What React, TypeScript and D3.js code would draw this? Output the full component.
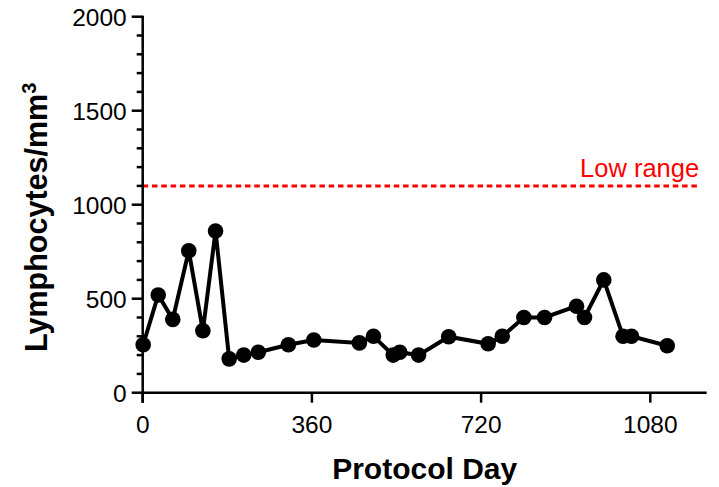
import React from "react";
import * as d3 from "d3";

const days = [1, 33, 64, 98, 128, 155, 184, 215, 246, 310, 364, 461, 491, 533, 547, 587, 651, 735, 765, 811, 855, 923, 940, 981, 1022, 1040, 1116];
const lymphocytes = [255, 520, 390, 755, 330, 860, 180, 200, 215, 255, 280, 265, 300, 200, 215, 200, 298, 260, 300, 400, 400, 460, 400, 600, 300, 300, 250];
const xTicks = [0, 360, 720, 1080];
const yTicks = [0, 500, 1000, 1500, 2000];
const yMinorTicks = d3.range(0, 2001, 100);
const lowRange = 1100;
const lowRangeSpan = [0, 1185];
const lowRangeLabel = "Low range";

const W = 719;
const H = 487;
const FONT = "'Liberation Sans', Arial, Helvetica, sans-serif";

export default function App() {
  const x = d3.scaleLinear().domain([0, 1200]).range([142.7, 706.7]);
  const y = d3.scaleLinear().domain([0, 2000]).range([392.7, 16.7]);
  const pts = days.map((d, i) => [d, lymphocytes[i]] as [number, number]);
  const line = d3
    .line<[number, number]>()
    .x((p) => x(p[0]))
    .y((p) => y(p[1]));

  const x0 = x(0);
  const y0 = y(0);

  return (
    <svg
      width={W}
      height={H}
      style={{ position: "absolute", left: 0, top: 0, background: "#fff" }}
      fontFamily={FONT}
    >
      {/* low range line */}
      <line
        x1={x(lowRangeSpan[0])}
        x2={x(lowRangeSpan[1])}
        y1={y(lowRange)}
        y2={y(lowRange)}
        stroke="#ff0000"
        strokeWidth={3}
        strokeDasharray="5.5 3.8"
      />
      <text
        x={x(lowRangeSpan[1]) - 0.5}
        y={y(lowRange) - 9}
        textAnchor="end"
        fontSize={25.5}
        fill="#ff0000"
      >
        {lowRangeLabel}
      </text>

      {/* data */}
      <path d={line(pts) || ""} fill="none" stroke="#000" strokeWidth={4} strokeLinejoin="miter" />
      {pts.map((p, i) => (
        <circle key={i} cx={x(p[0])} cy={y(p[1])} r={7.8} fill="#000" />
      ))}

      {/* y axis */}
      <line x1={x0} x2={x0} y1={y(2000) - 1} y2={y0 + 10} stroke="#000" strokeWidth={2.5} />
      {yMinorTicks.map((t) => (
        <line
          key={"m" + t}
          x1={x0 - (t % 500 === 0 ? 11 : 6)}
          x2={x0}
          y1={y(t)}
          y2={y(t)}
          stroke="#000"
          strokeWidth={2.5}
        />
      ))}
      {yTicks.map((t) => (
        <text
          key={"yl" + t}
          x={x0 - 16}
          y={y(t)}
          dy="0.36em"
          textAnchor="end"
          fontSize={24.5}
          fill="#000"
        >
          {t}
        </text>
      ))}

      {/* x axis */}
      <line x1={x0 - 1} x2={x(1200)} y1={y0} y2={y0} stroke="#000" strokeWidth={2.5} />
      {xTicks.map((t) => (
        <g key={"xt" + t}>
          <line x1={x(t)} x2={x(t)} y1={y0} y2={y0 + 10} stroke="#000" strokeWidth={2.5} />
          <text x={x(t)} y={432.7} textAnchor="middle" fontSize={24.5} fill="#000">
            {t}
          </text>
        </g>
      ))}

      {/* titles */}
      <text
        x={(x(0) + x(1200)) / 2}
        y={479}
        textAnchor="middle"
        fontSize={30}
        fontWeight="bold"
        fill="#000"
      >
        Protocol Day
      </text>
      <text
        transform="translate(46.7,352) rotate(-90)"
        textAnchor="start"
        fontSize={30.5}
        fontWeight="bold"
        fill="#000"
      >
        Lymphocytes/mm
        <tspan fontSize={20} dy={-11}>
          3
        </tspan>
      </text>
    </svg>
  );
}
